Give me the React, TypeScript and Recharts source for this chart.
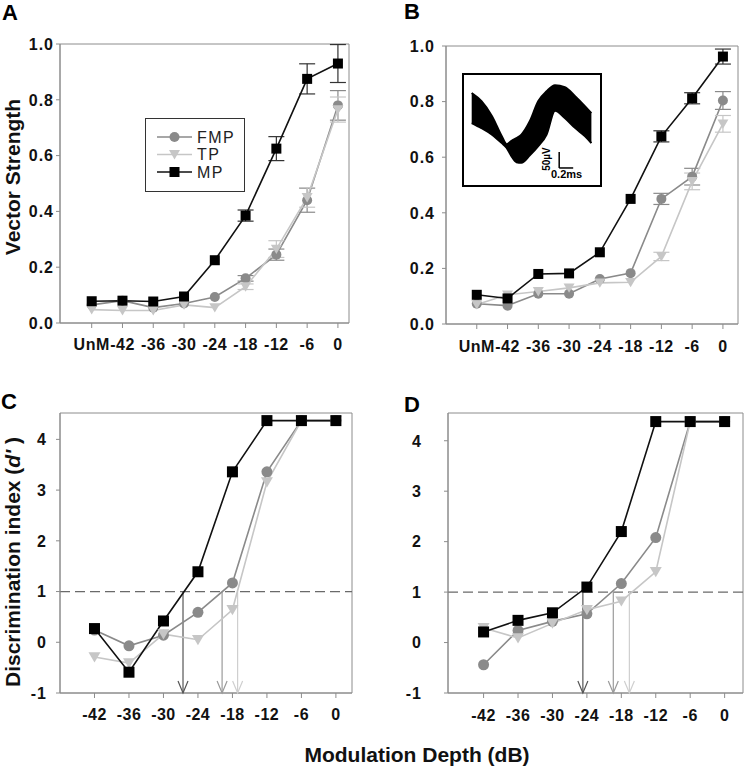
import React from "react";
import {
  LineChart,
  ComposedChart,
  Line,
  Area,
  XAxis,
  YAxis,
  ErrorBar,
  ReferenceLine,
  ReferenceArea,
  ReferenceDot,
  Legend,
} from "recharts";

const FONT = '"Liberation Sans", Arial, Helvetica, sans-serif';

// categories / ticks
const vsLabels = ["UnM", "-42", "-36", "-30", "-24", "-18", "-12", "-6", "0"];
const dbLevels = [-42, -36, -30, -24, -18, -12, -6, 0];
const vsTicks = [0, 0.2, 0.4, 0.6, 0.8, 1.0];
const dTicks = [-1, 0, 1, 2, 3, 4];
const legendNames = ["FMP", "TP", "MP"];

// A - vector strength
const aFMP = [0.065, 0.08, 0.055, 0.07, 0.093, 0.16, 0.245, 0.44, 0.78];
const aTP = [0.048, 0.045, 0.045, 0.065, 0.055, 0.13, 0.265, 0.45, 0.765];
const aMP = [0.078, 0.08, 0.077, 0.095, 0.225, 0.385, 0.625, 0.875, 0.93];
const aFMPerr = [0, 0, 0, 0, 0, 0.01, 0.02, 0.043, 0.053];
const aTPerr = [0, 0, 0, 0, 0, 0.01, 0.03, 0.035, 0.045];
const aMPerr = [0, 0, 0, 0, 0, 0.02, 0.043, 0.054, 0.068];

// B - vector strength
const bFMP = [0.073, 0.066, 0.109, 0.109, 0.162, 0.183, 0.45, 0.53, 0.804];
const bTP = [0.07, 0.105, 0.117, 0.13, 0.148, 0.15, 0.243, 0.513, 0.72];
const bMP = [0.105, 0.092, 0.18, 0.182, 0.258, 0.45, 0.675, 0.812, 0.962];
const bFMPerr = [0, 0, 0, 0, 0, 0, 0.02, 0.03, 0.032];
const bTPerr = [0, 0, 0, 0, 0, 0, 0.015, 0.03, 0.03];
const bMPerr = [0, 0, 0, 0, 0, 0, 0.02, 0.02, 0.027];

// C - discrimination index
const cFMP = [0.24, -0.07, 0.14, 0.59, 1.17, 3.36, 4.37, 4.37];
const cTP = [-0.29, -0.41, 0.16, 0.05, 0.64, 3.16, 4.37, 4.37];
const cMP = [0.27, -0.59, 0.42, 1.39, 3.36, 4.37, 4.37, 4.37];
const cThresh = [-26.6, -19.8, -17.1];

// D - discrimination index
const dFMP = [-0.44, 0.24, 0.42, 0.57, 1.17, 2.08, 4.38, 4.38];
const dTP = [0.29, 0.09, 0.38, 0.65, 0.82, 1.4, 4.38, 4.38];
const dMP = [0.21, 0.44, 0.59, 1.1, 2.2, 4.38, 4.38, 4.38];
const dThresh = [-24.7, -19.4, -16.6];

// inset spike waveforms (ms, uV) - envelope of the overlaid traces
const waveT = [0, 0.14, 0.29, 0.43, 0.5, 0.57, 0.64, 0.71, 0.83, 0.95, 1.07, 1.19, 1.33, 1.48, 1.62, 1.71];
const waveHi = [148, 124, 80, 21, -2, 8, 16, 26, 65, 124, 153, 171, 165, 138, 109, 89];
const waveLo = [60, 45, 26, 1, -13, -38, -55, -57, -35, -8, 26, 96, 75, 45, 21, 1];

const COL: Record<string, string> = { FMP: "#8a8a8a", TP: "#c6c6c6", MP: "#111" };
const ARROW_COL = ["#555", "#9a9a9a", "#cfcfcf"];
const FRAME = "#8c8c8c";

const squareDot = (s: number) => (p: any) => (
  <rect key={`sq-${p.index}`} x={p.cx - s / 2} y={p.cy - s / 2} width={s} height={s} fill="#000" />
);
const circleDot = (r: number) => (p: any) => (
  <circle key={`ci-${p.index}`} cx={p.cx} cy={p.cy} r={r} fill={COL.FMP} />
);
const triDot = (w: number) => (p: any) => (
  <path
    key={`tr-${p.index}`}
    d={`M${p.cx - w / 2},${p.cy - w * 0.4} L${p.cx + w / 2},${p.cy - w * 0.4} L${p.cx},${p.cy + w * 0.45} Z`}
    fill={COL.TP}
  />
);

const xTick = (fmt: (v: number) => string, base: number) => (p: any) => (
  <text
    x={p.x}
    y={p.y + base}
    textAnchor="middle"
    fontSize={16}
    fontWeight={700}
    fill="#111"
    letterSpacing={0.5}
    fontFamily={FONT}
  >
    {fmt(p.payload.value)}
  </text>
);

const yTick = (fmt: (v: number) => string) => (p: any) => (
  <text
    x={p.x}
    y={p.y + 5.8}
    textAnchor="end"
    fontSize={16}
    fontWeight={700}
    fill="#111"
    letterSpacing={1}
    fontFamily={FONT}
  >
    {fmt(p.payload.value)}
  </text>
);

function VsLegend() {
  return (
    <svg width={100} height={74} style={{ display: "block" }}>
      <rect x={0.5} y={0.5} width={99} height={73} fill="#fff" stroke="#333" />
      {legendNames.map((n, i) => {
        const y = 19 + i * 17.5;
        const p = { cx: 29.5, cy: y, index: i };
        return (
          <g key={n}>
            <line x1={12} x2={47} y1={y} y2={y} stroke={COL[n]} strokeWidth={1.6} />
            {n === "FMP" && circleDot(5)(p)}
            {n === "TP" && triDot(11)(p)}
            {n === "MP" && squareDot(10)(p)}
            <text x={52} y={y + 5.5} fontSize={16} fill="#222" letterSpacing={1.5} fontFamily={FONT}>
              {n}
            </text>
          </g>
        );
      })}
    </svg>
  );
}

function VsPanel(props: any) {
  const { left, top, margin, yAxisWidth, yGap, xDomain, fmp, tp, mp, fmpErr, tpErr, mpErr, xBase, legend } = props;
  const rows = vsLabels.map((_, i) => ({
    x: i,
    fmp: fmp[i],
    tp: tp[i],
    mp: mp[i],
    fmpErr: fmpErr[i],
    tpErr: tpErr[i],
    mpErr: mpErr[i],
  }));
  return (
    <div style={{ position: "absolute", left, top }}>
      <LineChart width={375} height={375} data={rows} margin={margin}>
        <ReferenceArea x1={xDomain[0]} x2={xDomain[1]} y1={0} y2={1} fill="none" stroke={FRAME} ifOverflow="visible" />
        <XAxis
          type="number"
          dataKey="x"
          domain={xDomain}
          allowDataOverflow
          ticks={vsLabels.map((_, i) => i)}
          interval={0}
          height={40}
          tickSize={5}
          tickMargin={0}
          axisLine={{ stroke: FRAME }}
          tickLine={{ stroke: FRAME }}
          tick={xTick((v) => vsLabels[v], xBase)}
        />
        <YAxis
          type="number"
          domain={[0, 1]}
          allowDataOverflow
          ticks={vsTicks}
          interval={0}
          width={yAxisWidth}
          tickSize={4}
          tickMargin={yGap}
          axisLine={{ stroke: FRAME }}
          tickLine={{ stroke: FRAME }}
          tick={yTick((v) => v.toFixed(1))}
        />
        {legend && (
          <Legend
            layout="horizontal"
            verticalAlign="middle"
            align="center"
            wrapperStyle={{ left: 145, top: 118, width: 100, height: 74 }}
            content={() => <VsLegend />}
          />
        )}
        <Line dataKey="fmp" stroke={COL.FMP} strokeWidth={1.6} dot={circleDot(5)} isAnimationActive={false}>
          <ErrorBar dataKey="fmpErr" direction="y" width={8} stroke={COL.FMP} strokeWidth={1.2} />
        </Line>
        <Line dataKey="tp" stroke={COL.TP} strokeWidth={1.6} dot={triDot(11)} isAnimationActive={false}>
          <ErrorBar dataKey="tpErr" direction="y" width={8} stroke={COL.TP} strokeWidth={1.2} />
        </Line>
        <Line dataKey="mp" stroke={COL.MP} strokeWidth={1.6} dot={squareDot(10)} isAnimationActive={false}>
          <ErrorBar dataKey="mpErr" direction="y" width={8} stroke="#333" strokeWidth={1.2} />
        </Line>
      </LineChart>
    </div>
  );
}

function DPanel(props: any) {
  const { left, top, margin, yAxisWidth, yGap, xDomain, yMax, fmp, tp, mp, thresh, xBase } = props;
  const rows = dbLevels.map((db, i) => ({ x: db, fmp: fmp[i], tp: tp[i], mp: mp[i] }));
  return (
    <div style={{ position: "absolute", left, top }}>
      <LineChart width={375} height={350} data={rows} margin={margin}>
        <ReferenceArea x1={xDomain[0]} x2={xDomain[1]} y1={-1} y2={yMax} fill="none" stroke={FRAME} ifOverflow="visible" />
        <XAxis
          type="number"
          dataKey="x"
          domain={xDomain}
          allowDataOverflow
          ticks={dbLevels}
          interval={0}
          height={30}
          tickSize={5}
          tickMargin={0}
          axisLine={{ stroke: FRAME }}
          tickLine={{ stroke: FRAME }}
          tick={xTick((v) => String(v), xBase)}
        />
        <YAxis
          type="number"
          domain={[-1, yMax]}
          allowDataOverflow
          ticks={dTicks}
          interval={0}
          width={yAxisWidth}
          tickSize={4}
          tickMargin={yGap}
          axisLine={{ stroke: FRAME }}
          tickLine={{ stroke: FRAME }}
          tick={yTick((v) => String(v))}
        />
        <ReferenceLine y={1} stroke="#6a6a6a" strokeWidth={1.2} strokeDasharray="10 5" ifOverflow="visible" />
        {thresh.map((t: number, i: number) => (
          <ReferenceLine
            key={`tl-${i}`}
            segment={[
              { x: t, y: 1 },
              { x: t, y: -1 },
            ]}
            stroke={ARROW_COL[i]}
            strokeWidth={1.2}
            ifOverflow="visible"
          />
        ))}
        {thresh.map((t: number, i: number) => (
          <ReferenceDot
            key={`th-${i}`}
            x={t}
            y={-1}
            ifOverflow="visible"
            shape={(p: any) => (
              <path
                d={`M${p.cx - 5},${p.cy - 12} L${p.cx},${p.cy} L${p.cx + 5},${p.cy - 12}`}
                fill="none"
                stroke={ARROW_COL[i]}
                strokeWidth={1.2}
              />
            )}
          />
        ))}
        <Line dataKey="fmp" stroke={COL.FMP} strokeWidth={1.6} dot={circleDot(5.5)} isAnimationActive={false} />
        <Line dataKey="tp" stroke={COL.TP} strokeWidth={1.6} dot={triDot(12)} isAnimationActive={false} />
        <Line dataKey="mp" stroke={COL.MP} strokeWidth={1.6} dot={squareDot(11)} isAnimationActive={false} />
      </LineChart>
    </div>
  );
}

function Inset() {
  const rows = waveT.map((t, i) => ({ t, band: [waveLo[i], waveHi[i]] }));
  return (
    <div
      style={{
        position: "absolute",
        left: 462,
        top: 73,
        width: 140,
        height: 114,
        border: "2px solid #000",
        boxSizing: "border-box",
        background: "#fff",
      }}
    >
      <ComposedChart width={136} height={110} data={rows} margin={{ top: 0, right: 0, bottom: 0, left: 0 }}>
        <XAxis type="number" dataKey="t" domain={[-0.11, 1.833]} allowDataOverflow hide />
        <YAxis type="number" domain={[-122, 201]} allowDataOverflow hide />
        <Area
          dataKey="band"
          type="monotone"
          stroke="#000"
          strokeWidth={2}
          strokeLinejoin="round"
          fill="#000"
          fillOpacity={1}
          dot={false}
          activeDot={false}
          isAnimationActive={false}
        />
        <ReferenceLine
          segment={[
            { x: 1.25, y: -25 },
            { x: 1.25, y: -72 },
          ]}
          stroke="#000"
          strokeWidth={1.5}
        />
        <ReferenceLine
          segment={[
            { x: 1.25, y: -72 },
            { x: 1.45, y: -72 },
          ]}
          stroke="#000"
          strokeWidth={1.5}
        />
      </ComposedChart>
    </div>
  );
}

export default function App() {
  return (
    <div
      style={{
        position: "absolute",
        left: 0,
        top: 0,
        width: 750,
        height: 769,
        background: "#fff",
        fontFamily: FONT,
      }}
    >
      <VsPanel
        left={0}
        top={0}
        margin={{ top: 44, right: 26, bottom: 12, left: 10 }}
        yAxisWidth={50}
        yGap={2}
        xDomain={[-1.03, 8.36]}
        fmp={aFMP}
        tp={aTP}
        mp={aMP}
        fmpErr={aFMPerr}
        tpErr={aTPerr}
        mpErr={aMPerr}
        xBase={22}
        legend
      />
      <VsPanel
        left={375}
        top={0}
        margin={{ top: 46, right: 12, bottom: 11, left: 11 }}
        yAxisWidth={60}
        yGap={7}
        xDomain={[-1.0, 8.49]}
        fmp={bFMP}
        tp={bTP}
        mp={bMP}
        fmpErr={bFMPerr}
        tpErr={bTPerr}
        mpErr={bMPerr}
        xBase={23}
      />
      <DPanel
        left={0}
        top={380}
        margin={{ top: 33, right: 23, bottom: 7, left: 10 }}
        yAxisWidth={50}
        yGap={9}
        xDomain={[-48, 2.8]}
        yMax={4.52}
        fmp={cFMP}
        tp={cTP}
        mp={cMP}
        thresh={cThresh}
        xBase={22}
      />
      <DPanel
        left={375}
        top={380}
        margin={{ top: 33, right: 7, bottom: 7, left: 13 }}
        yAxisWidth={60}
        yGap={22}
        xDomain={[-48.2, 3.2]}
        yMax={4.55}
        fmp={dFMP}
        tp={dTP}
        mp={dMP}
        thresh={dThresh}
        xBase={22.5}
      />
      <Inset />
      <svg
        width={750}
        height={769}
        style={{ position: "absolute", left: 0, top: 0, pointerEvents: "none" }}
        fontFamily={FONT}
      >
        <g fontWeight={700} fontSize={22} fill="#000">
          <text x={2} y={20}>A</text>
          <text x={404} y={18.5}>B</text>
          <text x={1} y={409}>C</text>
          <text x={404} y={412}>D</text>
        </g>
        <text
          transform="translate(20,177) rotate(-90)"
          textAnchor="middle"
          fontSize={21}
          fontWeight={700}
          fill="#111"
        >
          Vector Strength
        </text>
        <text
          transform="translate(20,562) rotate(-90)"
          textAnchor="middle"
          fontSize={21}
          fontWeight={700}
          fill="#111"
        >
          Discrimination index (<tspan fontStyle="italic">d'</tspan> )
        </text>
        <text x={417} y={762} textAnchor="middle" fontSize={21} fontWeight={700} fill="#111">
          Modulation Depth (dB)
        </text>
        <text
          transform="translate(550,159) rotate(-90)"
          textAnchor="middle"
          fontSize={10}
          fontWeight={700}
          fill="#000"
        >
          50µV
        </text>
        <text x={551} y={178} fontSize={11} fontWeight={700} fill="#000">
          0.2ms
        </text>
      </svg>
    </div>
  );
}
